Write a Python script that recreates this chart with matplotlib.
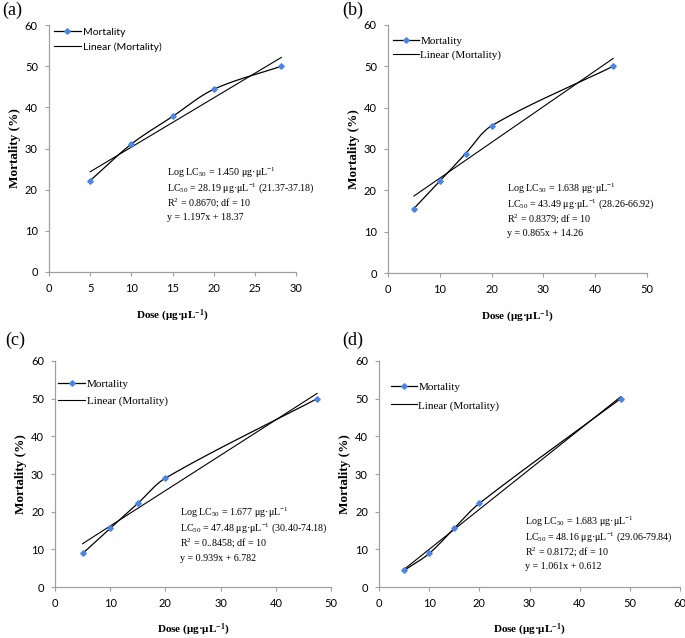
import numpy as np
import matplotlib
matplotlib.use("Agg")
from matplotlib import pyplot as plt

plt.rcParams['mathtext.fontset'] = 'custom'
plt.rcParams['mathtext.rm'] = 'Liberation Serif'
plt.rcParams['mathtext.it'] = 'Liberation Serif:italic'
plt.rcParams['mathtext.bf'] = 'Liberation Serif:bold'

# dose values (ug/uL) and mortality (%) for each panel
dose_a = [5, 10, 15, 20, 28.19]
mort_a = [22.2, 31.1, 37.8, 44.4, 50.0]
dose_b = [5, 10, 15, 20, 43.49]
mort_b = [15.6, 22.2, 28.9, 35.6, 50.0]
dose_c = [5, 10, 15, 20, 47.48]
mort_c = [8.9, 15.6, 22.2, 28.9, 50.0]
dose_d = [5, 10, 15, 20, 48.16]
mort_d = [4.4, 8.9, 15.6, 22.2, 50.0]

xmax_list = [30, 50, 50, 60]
labels = ['(a)', '(b)', '(c)', '(d)']

notes = [
    ["Log LC$_{50}$ = 1.450 \u03bcg\u00b7\u03bcL$^{-1}$",
     "LC$_{50}$ = 28.19 \u03bcg\u00b7\u03bcL$^{-1}$ (21.37-37.18)",
     "R$^{2}$ = 0.8670; df = 10",
     "y = 1.197x + 18.37"],
    ["Log LC$_{50}$ = 1.638 \u03bcg\u00b7\u03bcL$^{-1}$",
     "LC$_{50}$ = 43.49 \u03bcg\u00b7\u03bcL$^{-1}$ (28.26-66.92)",
     "R$^{2}$ = 0.8379; df = 10",
     "y = 0.865x + 14.26"],
    ["Log LC$_{50}$ = 1.677 \u03bcg\u00b7\u03bcL$^{-1}$",
     "LC$_{50}$ = 47.48 \u03bcg\u00b7\u03bcL$^{-1}$ (30.40-74.18)",
     "R$^{2}$ = 0..8458; df = 10",
     "y = 0.939x + 6.782"],
    ["Log LC$_{50}$ = 1.683 \u03bcg\u00b7\u03bcL$^{-1}$",
     "LC$_{50}$ = 48.16 \u03bcg\u00b7\u03bcL$^{-1}$ (29.06-79.84)",
     "R$^{2}$ = 0.8172; df = 10",
     "y = 1.061x + 0.612"],
]


def smooth(x, y, sx, sy, n=40):
    # excel-like smoothed line, tangents worked out in screen scale
    p = np.column_stack([np.asarray(x, float) * sx, np.asarray(y, float) * sy])
    m = len(p)
    tang = []
    for i in range(m):
        a = p[max(i - 1, 0)]
        b = p[min(i + 1, m - 1)]
        d = b - a
        tang.append(d / np.hypot(*d))
    out = []
    for i in range(m - 1):
        p1, p2 = p[i], p[i + 1]
        L = np.hypot(*(p2 - p1)) / 3
        c1 = p1 + tang[i] * L
        c2 = p2 - tang[i + 1] * L
        t = np.linspace(0, 1, n)[:, None]
        seg = ((1 - t) ** 3 * p1 + 3 * (1 - t) ** 2 * t * c1
               + 3 * (1 - t) * t ** 2 * c2 + t ** 3 * p2)
        out.append(seg)
    out = np.vstack(out)
    return out[:, 0] / sx, out[:, 1] / sy


fig = plt.figure(figsize=(6.85, 6.38), dpi=100)
rects = [[0.0715, 0.5737, 0.361, 0.387],
         [0.5664, 0.5720, 0.378, 0.389],
         [0.0803, 0.0799, 0.403, 0.3543],
         [0.5533, 0.0799, 0.4394, 0.3543]]
note_pos = [(0.478, 0.401), (0.459, 0.339), (0.453, 0.327), (0.485, 0.288)]
leg_pos = [(0.02, 0.99), (0.02, 0.955), (0.012, 0.918), (0.04, 0.905)]
leg_space = [0.5, 0.4, 0.6, 0.75]
leg_hlen = [2.6, 2.3, 2.4, 2.3]
label_pos = [(0.003, 0.984), (0.499, 0.984), (0.007, 0.466), (0.499, 0.466)]
data = [(dose_a, mort_a), (dose_b, mort_b), (dose_c, mort_c), (dose_d, mort_d)]

for i, (x, y) in enumerate(data):
    ax = fig.add_axes(rects[i])
    ax.set_xlim(0, xmax_list[i])
    ax.set_ylim(0, 60)
    wpx = rects[i][2] * 685
    hpx = rects[i][3] * 638
    sx, sy = smooth(x, y, wpx / xmax_list[i], hpx / 60)
    ax.plot(sx, sy, color='black', lw=0.9, zorder=2)
    ax.plot(x, y, ls='none', marker='D', ms=2.8, color='#4a86e8',
            mec='#4a86e8', zorder=3)
    k, b = np.polyfit(x, y, 1)
    xx = np.array([x[0], x[-1]])
    ax.plot(xx, k * xx + b, color='black', lw=0.8, zorder=1)

    # legend handles
    h1, = ax.plot([], [], color='black', lw=0.9, marker='D', ms=2.8,
                  mfc='#4a86e8', mec='#4a86e8')
    h2, = ax.plot([], [], color='black', lw=0.8)
    if i == 0:
        lfont = {'family': 'Lato', 'size': 7.5}
    else:
        lfont = {'family': 'Liberation Serif', 'size': 8}
    ax.legend([h1, h2], ['Mortality', 'Linear (Mortality)'], loc='upper left',
              bbox_to_anchor=leg_pos[i], frameon=False, prop=lfont,
              handlelength=leg_hlen[i], handletextpad=0.15,
              labelspacing=leg_space[i], borderaxespad=0, borderpad=0)

    ax.set_xticks(np.arange(0, xmax_list[i] + 1, 10 if i else 5))
    ax.set_yticks(np.arange(0, 61, 10))
    for s in ['top', 'right']:
        ax.spines[s].set_visible(False)
    for s in ['left', 'bottom']:
        ax.spines[s].set_color('#a0a0a0')
        ax.spines[s].set_linewidth(0.9)
    ax.tick_params(direction='out', length=3, width=0.8, color='#a0a0a0',
                   labelsize=8, pad=5)
    for t in ax.get_xticklabels() + ax.get_yticklabels():
        t.set_fontfamily('Lato')
    ax.set_xlabel('Dose (\u03bcg\u00b7\u03bcL$^{\\mathbf{-1}}$)', fontsize=8,
                  fontweight='bold', family='Liberation Serif',
                  labelpad=10 if i < 2 else 9.5)
    ax.set_ylabel('Mortality (%)', fontsize=9.5, fontweight='bold',
                  family='Liberation Serif', labelpad=3)

    for j, line in enumerate(notes[i]):
        ax.annotate(line, xy=note_pos[i], xycoords='axes fraction',
                    xytext=(0, -10.8 * j), textcoords='offset points',
                    ha='left', va='center', fontsize=7.2,
                    family='Liberation Serif')
    fig.text(label_pos[i][0], label_pos[i][1], labels[i], fontsize=13,
             family='Liberation Serif', va='center', ha='left')

fig.savefig('out.png', dpi=100)
